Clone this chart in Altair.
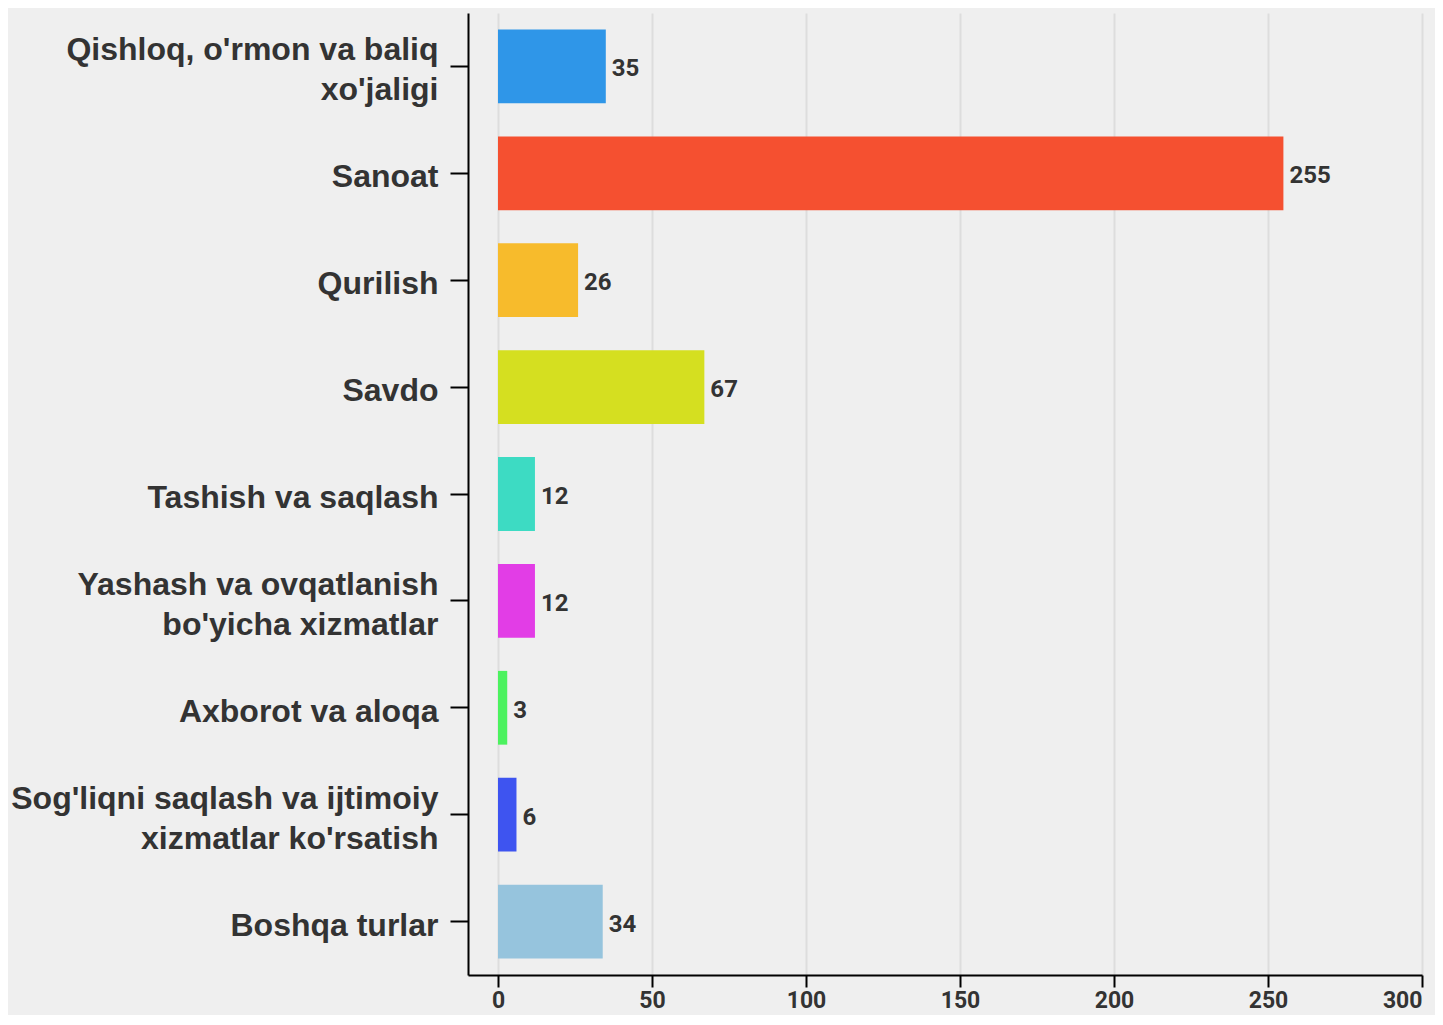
import altair as alt
import pandas as pd

categories = [
    "Qishloq, o'rmon va baliq\nxo'jaligi",
    "Sanoat",
    "Qurilish",
    "Savdo",
    "Tashish va saqlash",
    "Yashash va ovqatlanish\nbo'yicha xizmatlar",
    "Axborot va aloqa",
    "Sog'liqni saqlash va ijtimoiy\nxizmatlar ko'rsatish",
    "Boshqa turlar",
]
values = [35, 255, 26, 67, 12, 12, 3, 6, 34]
colors = ["#2f96e8", "#f55030", "#f7bb2c", "#d5df20", "#3ddbc3",
          "#e23de6", "#4cf25f", "#3e54f0", "#96c4dd"]
x_ticks = [0, 50, 100, 150, 200, 250, 300]

df = pd.DataFrame({"cat": categories, "value": values})

y_enc = alt.Y(
    "cat:N", sort=categories, title=None,
    scale=alt.Scale(paddingInner=0.31, paddingOuter=0.155),
    axis=alt.Axis(
        labelExpr="split(datum.label, '\\n')",
        labelFont="Liberation Sans", labelFontWeight="bold", labelFontSize=32,
        labelColor="#333333", labelLineHeight=40, labelPadding=12,
        labelOffset={"condition": {"test": "indexof(datum.value, '\\n') >= 0", "value": -16}, "value": 4},
        tickSize=18, tickColor="#000000", tickWidth=2,
        domainColor="#000000", domainWidth=2, grid=False, labelLimit=600,
    ),
)
x_enc = alt.X(
    "value:Q", title=None,
    scale=alt.Scale(domain=[-9.74, 300], nice=False, zero=False),
    axis=alt.Axis(
        values=x_ticks, labelFont="Roboto",
        labelFontWeight="bold", labelFontSize=23, labelColor="#333333",
        tickSize=12, tickColor="#000000", tickWidth=2, labelPadding=2,
        domainColor="#000000", domainWidth=2,
        grid=True, gridColor="#dddddd", gridWidth=2,
    ),
)

bars = alt.Chart(df).mark_bar().encode(
    y=y_enc,
    x=x_enc,
    x2=alt.datum(0),
    color=alt.Color("cat:N", scale=alt.Scale(domain=categories, range=colors), legend=None),
)
text = alt.Chart(df).mark_text(
    align="left", baseline="middle", dx=6, dy=3,
    font="Roboto", fontWeight="bold",
    fontSize=24, color="#333333",
).encode(y=alt.Y("cat:N", sort=categories), x=alt.X("value:Q"), text="value:Q")

chart = (bars + text).properties(
    width=954, height=962,
    background="#efefef",
    padding={"left": 460, "top": 5, "right": 13, "bottom": 40},
    autosize=alt.AutoSizeParams(type="none"),
).configure_view(stroke=None)

chart.save("out.html", embed_options={"renderer": "svg", "actions": False})
